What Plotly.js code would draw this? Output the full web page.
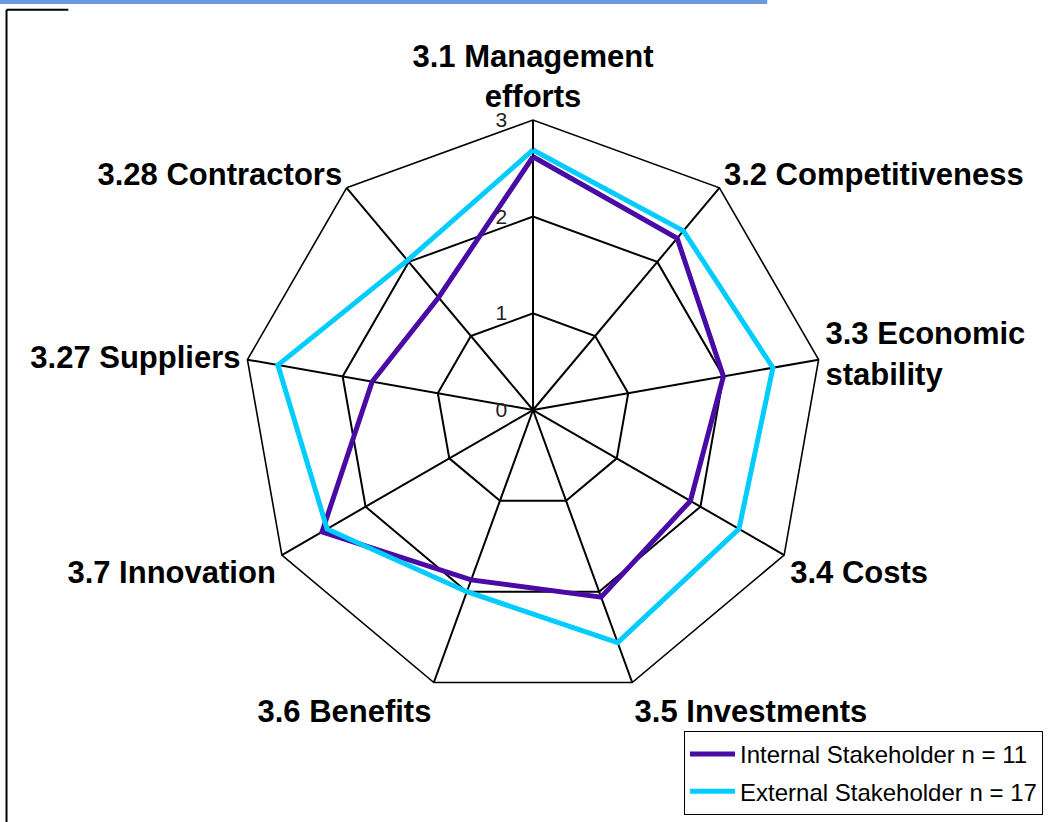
<!DOCTYPE html>
<html>
<head>
<meta charset="utf-8">
<script src="https://cdn.plot.ly/plotly-3.0.1.min.js"></script>
<style>
  html, body { margin: 0; padding: 0; background: #fff; }
  #plot { width: 1051px; height: 822px; }
</style>
</head>
<body>
<div id="plot"></div>
<script>
// categories (clockwise from top)
var kategori = [
    "3.1 Management<br>efforts",
    "3.2 Competitiveness",
    "3.3 Economic<br>stability",
    "3.4 Costs",
    "3.5 Investments",
    "3.6 Benefits",
    "3.7 Innovation",
    "3.27 Suppliers",
    "3.28 Contractors"
];

// values
var nilaiInternal = [2.62, 2.32, 2.0, 1.88, 2.06, 1.87, 2.52, 1.69, 1.52];
var nilaiEksternal = [2.69, 2.42, 2.52, 2.46, 2.56, 2.0, 2.46, 2.68, 2.02];

var namaSeri = ["Internal Stakeholder n = 11", "External Stakeholder n = 17"];
var tickRadial = [0, 1, 2, 3];

// close the polygon
function tutup(arr) { return arr.concat([arr[0]]); }

var traceInternal = {
    type: "scatterpolar",
    r: tutup(nilaiInternal),
    theta: tutup(kategori),
    mode: "lines",
    name: namaSeri[0],
    legendgroup: "a",
    line: { color: "#4a0aa6", width: 5 }
};

var traceEksternal = {
    type: "scatterpolar",
    r: tutup(nilaiEksternal),
    theta: tutup(kategori),
    mode: "lines",
    name: namaSeri[1],
    legendgroup: "b",
    line: { color: "#00ccff", width: 5 }
};

var layout = {
    width: 1051,
    height: 822,
    margin: { t: 0, r: 0, l: 0, b: 0 },
    paper_bgcolor: "#fff",
    font: { family: "Liberation Sans, Arial, sans-serif", color: "#000" },
    showlegend: true,
    legend: {
        x: 0.9924, y: 0.0085, xanchor: "right", yanchor: "bottom",
        bordercolor: "#000", borderwidth: 1, bgcolor: "#fff",
        font: { size: 24, color: "#000" },
        itemwidth: 45,
        tracegroupgap: 3
    },
    polar: {
        domain: { x: [0.2312, 0.7831], y: [0.1484, 0.854] },
        gridshape: "linear",
        bgcolor: "#fff",
        radialaxis: {
            range: [0, 3],
            tickvals: tickRadial,
            ticktext: tickRadial.map(String),
            angle: 90,
            side: "counterclockwise",
            tickangle: 90,
            showline: false,
            ticks: "outside",
            ticklen: 18,
            tickcolor: "rgba(0,0,0,0)",
            gridcolor: "#000",
            gridwidth: 1.6,
            tickfont: { size: 21, color: "#222" }
        },
        angularaxis: {
            direction: "clockwise",
            rotation: 90,
            ticks: "",
            linecolor: "#000",
            linewidth: 1.6,
            gridcolor: "#000",
            gridwidth: 1.6,
            tickfont: { size: 31, color: "#000", weight: "bold" }
        }
    },
    shapes: [
        // blue tab strip at top of the screenshot
        { type: "rect", xref: "paper", yref: "paper", x0: 0, x1: 0.73, y0: 0.9952, y1: 1,
          fillcolor: "#6a98dc", line: { width: 0 } },
        // black frame on the left
        { type: "line", xref: "paper", yref: "paper", x0: 0.0062, x1: 0.0062, y0: 0, y1: 0.988,
          line: { color: "#000", width: 2 } },
        { type: "line", xref: "paper", yref: "paper", x0: 0.0062, x1: 0.065, y0: 0.988, y1: 0.988,
          line: { color: "#000", width: 2 } }
    ]
};

var config = { responsive: false, displayModeBar: false };

Plotly.newPlot("plot", [traceInternal, traceEksternal], layout, config);
</script>
</body>
</html>
